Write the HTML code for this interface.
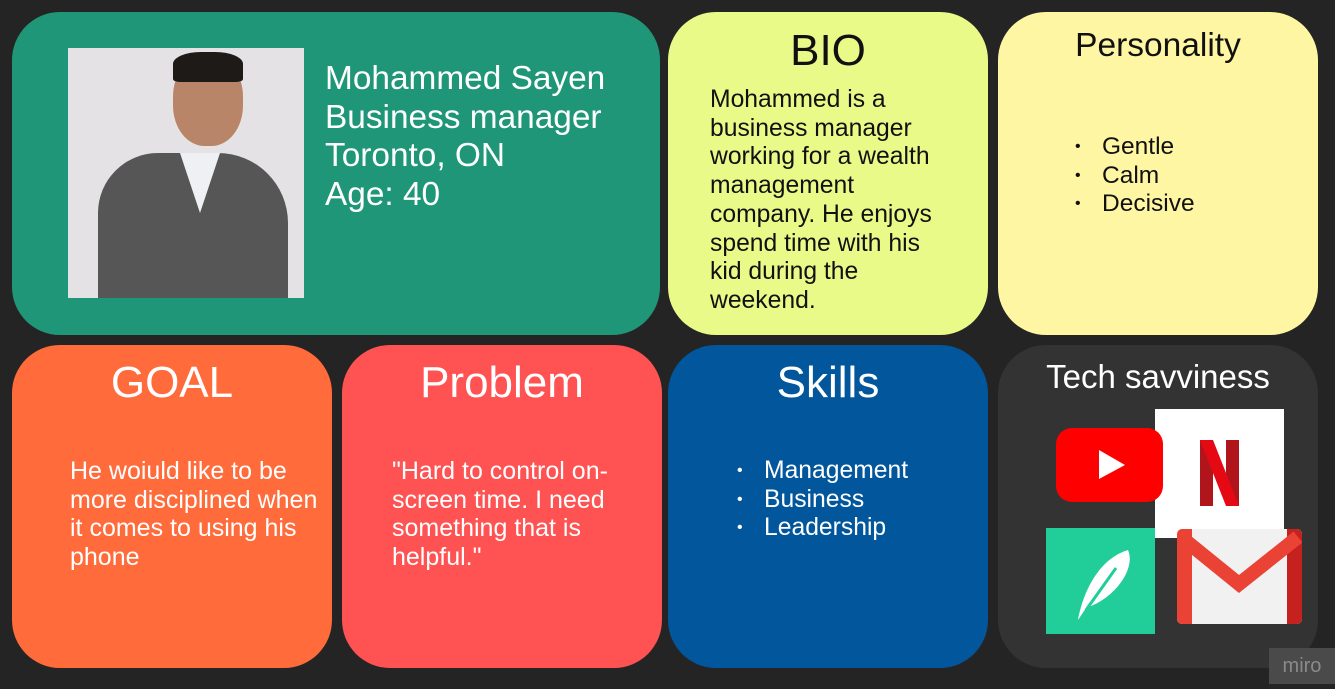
<!DOCTYPE html>
<html><head><meta charset="utf-8"><style>
body{margin:0;width:1335px;height:689px;background:#242424;position:relative;overflow:hidden;font-family:"Liberation Sans",sans-serif}
.c{position:absolute;border-radius:48px}
.t{position:absolute;white-space:nowrap}
ul{margin:0;padding:0;list-style:none}
li{position:relative}
li:before{content:"•";position:absolute;left:-27px;font-size:16px}
</style></head><body>
<div class="c" style="left:12px;top:12px;width:648px;height:323px;background:#1f9677"></div>
<div style="position:absolute;left:68px;top:48px;width:236px;height:250px;background:#e4e2e4;overflow:hidden">
<div style="position:absolute;left:105px;top:8px;width:70px;height:90px;border-radius:45%;background:#b98569"></div>
<div style="position:absolute;left:105px;top:4px;width:70px;height:30px;border-radius:40% 40% 10% 10%;background:#1e1a18"></div>
<div style="position:absolute;left:30px;top:105px;width:190px;height:160px;border-radius:60px 70px 0 0;background:#565656"></div>
<div style="position:absolute;left:112px;top:105px;width:40px;height:60px;background:#eef0f4;clip-path:polygon(0 0,100% 0,50% 100%)"></div>
</div>
<div class="t" style="left:325px;top:60px;font-size:33.4px;line-height:38.5px;color:#fff">Mohammed Sayen<br>Business manager<br>Toronto, ON<br>Age: 40</div>

<div class="c" style="left:668px;top:12px;width:320px;height:323px;background:#e9fa88"></div>
<div class="t" style="left:668px;width:320px;text-align:center;top:26px;font-size:44px;color:#111">BIO</div>
<div class="t" style="left:710px;top:86px;font-size:24.7px;line-height:28.7px;color:#111">Mohammed is a<br>business manager<br>working for a wealth<br>management<br>company. He enjoys<br>spend time with his<br>kid during the<br>weekend.</div>

<div class="c" style="left:998px;top:12px;width:320px;height:323px;background:#fff6a3"></div>
<div class="t" style="left:998px;width:320px;text-align:center;top:27px;font-size:33.5px;color:#111">Personality</div>
<ul class="t" style="left:1102px;top:133px;font-size:24.5px;line-height:28.5px;color:#111"><li>Gentle</li><li>Calm</li><li>Decisive</li></ul>

<div class="c" style="left:12px;top:345px;width:320px;height:323px;background:#ff6b3a"></div>
<div class="t" style="left:12px;width:320px;text-align:center;top:358px;font-size:44px;color:#fff">GOAL</div>
<div class="t" style="left:70px;top:457px;font-size:25px;line-height:28.7px;color:#fff">He woiuld like to be<br>more disciplined when<br>it comes to using his<br>phone</div>

<div class="c" style="left:342px;top:345px;width:320px;height:323px;background:#ff5252"></div>
<div class="t" style="left:342px;width:320px;text-align:center;top:358px;font-size:44px;color:#fff">Problem</div>
<div class="t" style="left:392px;top:457px;font-size:25px;line-height:28.7px;color:#fff">"Hard to control on-<br>screen time. I need<br>something that is<br>helpful."</div>

<div class="c" style="left:668px;top:345px;width:320px;height:323px;background:#02569b"></div>
<div class="t" style="left:668px;width:320px;text-align:center;top:358px;font-size:44px;color:#fff">Skills</div>
<ul class="t" style="left:764px;top:457px;font-size:24.7px;line-height:28.7px;color:#fff"><li>Management</li><li>Business</li><li>Leadership</li></ul>

<div class="c" style="left:998px;top:345px;width:320px;height:323px;background:#333"></div>
<div class="t" style="left:998px;width:320px;text-align:center;top:358px;font-size:33px;color:#fff">Tech savviness</div>
<div style="position:absolute;left:1155px;top:409px;width:129px;height:129px;background:#fff">
<svg width="129" height="129"><rect x="45" y="31" width="13" height="66" fill="#b1151c"/><rect x="71" y="31" width="13" height="66" fill="#b1151c"/><polygon points="45,31 58,31 84,97 71,97" fill="#e50914"/></svg></div>
<div style="position:absolute;left:1056px;top:428px;width:107px;height:74px;background:#f00;border-radius:16px">
<svg width="107" height="74"><polygon points="43,22 43,51 69,37" fill="#fff"/></svg></div>
<div style="position:absolute;left:1046px;top:528px;width:109px;height:106px;background:#21ce99">
<svg width="109" height="106"><path d="M32,92 C38,60 55,30 82,22 C90,40 70,70 40,80 Z" fill="#fff"/><path d="M40,82 L70,40" stroke="#21ce99" stroke-width="3"/></svg></div>
<div style="position:absolute;left:1177px;top:529px;width:125px;height:95px;background:#f1f1f1;border-radius:5px;overflow:hidden">
<svg width="125" height="95"><rect x="0" y="0" width="15" height="95" fill="#ea4335"/><rect x="110" y="0" width="15" height="95" fill="#c5221f"/><polyline points="4,8 62,55 121,8" fill="none" stroke="#ea4335" stroke-width="14"/></svg></div>
<div class="t" style="left:1269px;top:648px;width:66px;height:36px;background:#4a4a4a;color:#8a8a8a;font-size:20px;text-align:center;line-height:36px">miro</div>
</body></html>
